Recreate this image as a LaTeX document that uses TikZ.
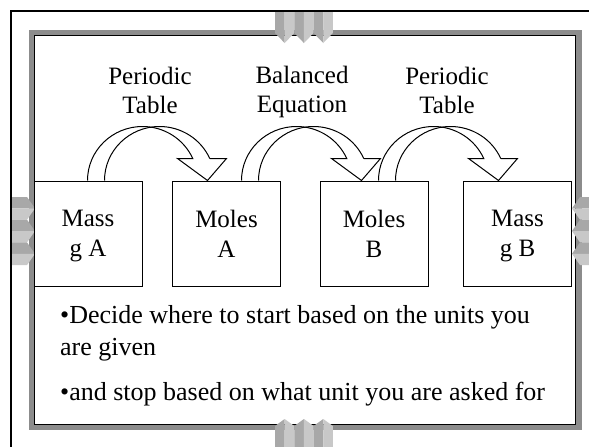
\documentclass[tikz,border=0pt]{standalone}
\usepackage{fontspec}
\setmainfont{Liberation Serif}
\usetikzlibrary{calc}
\definecolor{framegray}{HTML}{8C8C8C}
\definecolor{tabdark}{HTML}{A8A8A8}
\definecolor{tablight}{HTML}{C8C8C8}
\newcommand\bxst{\rule[-5pt]{0pt}{27pt}}
\newcommand\btst{\rule[-9pt]{0pt}{31pt}}
\begin{document}
\begin{tikzpicture}[x=1pt,y=-1pt,
  box/.style={draw, line width=1pt, minimum width=108pt, minimum height=105pt,
    inner sep=0pt, align=center, font=\fontsize{25}{30}\selectfont},
  lbl/.style={inner sep=0pt, align=center, font=\fontsize{25}{29}\selectfont},
  bullettext/.style={inner sep=0pt, align=left, anchor=north west, font=\fontsize{26}{32}\selectfont},
  curvarrow/.pic={
    \draw[line width=1pt, line join=miter]
      (0,0) arc[start angle=180, end angle=336, x radius=55, y radius=54]
      -- (90,-22) -- (120,0) -- (139,-22) -- (122.25,-22);
    \draw[line width=1pt]
      (17,0) arc[start angle=180, end angle=336, x radius=55, y radius=54];
  }]
\useasboundingbox (0,0) rectangle (589,447);
% outer slide border
\begin{scope}
  \clip (0,0) rectangle (589,447);
  \draw[line width=2pt] (11,11) rectangle (620,480);
\end{scope}
% gray frame
\fill[framegray] (28.5,30) rectangle (582,430);
\filldraw[fill=white, draw=black, line width=1.3pt] (34.5,35.5) rectangle (575.5,424.5);
% top and bottom tabs
\foreach \x in {275,294.3,313.6} {
  \fill[tabdark] (\x,12) -- (\x+9.65,12) -- (\x+9.65,43) -- (\x,33) -- cycle;
  \fill[tablight] (\x+9.65,12) -- (\x+19.3,12) -- (\x+19.3,33) -- (\x+9.65,43) -- cycle;
  \fill[tabdark] (\x,450) -- (\x,426) -- (\x+9.65,419) -- (\x+9.65,450) -- cycle;
  \fill[tablight] (\x+9.65,450) -- (\x+9.65,419) -- (\x+19.3,426) -- (\x+19.3,450) -- cycle;
}
% left and right tabs
\foreach \y in {197,219.7,242.4} {
  \fill[tabdark] (12,\y) -- (27,\y) -- (35,\y+11.35) -- (12,\y+11.35) -- cycle;
  \fill[tablight] (12,\y+11.35) -- (35,\y+11.35) -- (27,\y+22.7) -- (12,\y+22.7) -- cycle;
  \fill[tabdark] (592,\y) -- (580,\y) -- (572,\y+11.35) -- (592,\y+11.35) -- cycle;
  \fill[tablight] (592,\y+11.35) -- (572,\y+11.35) -- (580,\y+22.7) -- (592,\y+22.7) -- cycle;
}
% boxes
\node[box] (massA)  at (88,233.5)  {\bxst Mass\\\bxst g A};
\node[box] (molesA) at (226.5,233.5) {\bxst Moles\\\bxst A};
\node[box] (molesB) at (374,233.5) {\bxst Moles\\\bxst B};
\node[box] (massB)  at (517.5,233.5) {\bxst Mass\\\bxst g B};
% curved arrows
\pic at ($(massA.north west)+(54,0)$) {curvarrow};
\pic at ($(molesA.north west)+(69.5,0)$) {curvarrow};
\pic at ($(molesB.north west)+(59,0)$) {curvarrow};
% labels
\node[lbl] (lblA) at (150,90) {\bxst Periodic\\\bxst Table};
\node[lbl] (lblB) at (302,90) {\bxst Balanced\\\bxst Equation};
\node[lbl] (lblC) at (447,90) {\bxst Periodic\\\bxst Table};
% bullet text
\node[bullettext] (bulA) at (60,301) {\btst •Decide where to start based on the units you\\\btst are given};
\node[bullettext] (bulB) at (60,378) {\btst •and stop based on what unit you are asked for};
\end{tikzpicture}
\end{document}
